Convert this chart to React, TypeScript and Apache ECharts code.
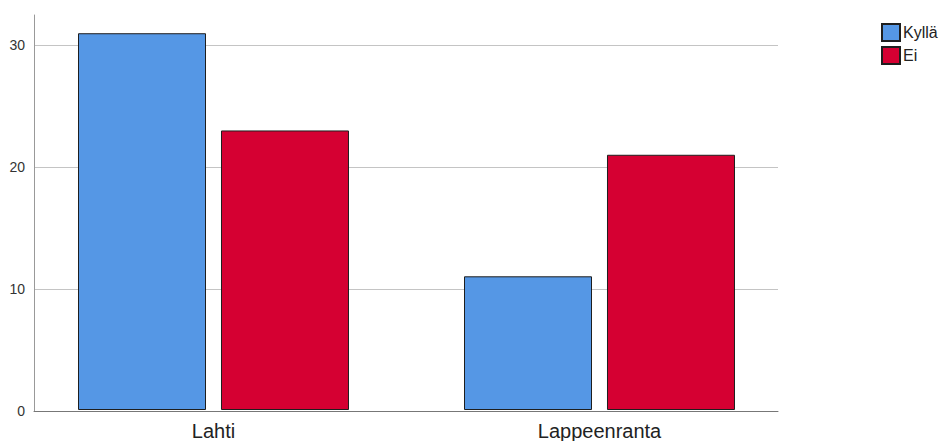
import React, { useEffect, useRef } from "react";
import * as echarts from "echarts";

const categories = ["Lahti", "Lappeenranta"];
const seriesNames = ["Kyllä", "Ei"];
const kyllaValues = [31, 11];
const eiValues = [23, 21];
const yTicks = [0, 10, 20, 30];

export default function App() {
  const ref = useRef<HTMLDivElement>(null);
  useEffect(() => {
    if (!ref.current) return;
    const chart = echarts.init(ref.current, undefined, { renderer: "svg" });
    const yMax = 32.5;
    chart.setOption({
      animation: false,
      backgroundColor: "#ffffff",
      textStyle: { fontFamily: "Arial, 'Liberation Sans', sans-serif" },
      legend: {
        orient: "vertical",
        left: 881,
        top: 23,
        padding: 0,
        itemWidth: 18,
        itemHeight: 17,
        itemGap: 4,
        icon: "rect",
        data: seriesNames,
        textStyle: { fontSize: 16, color: "#222", padding: [0, 0, 0, -2] },
      },
      grid: [
        { left: 34, right: 162, top: 15, bottom: 30 },
        { left: 20.5, right: 147.5, top: 15, bottom: 30 },
      ],
      xAxis: [
        {
          type: "category",
          gridIndex: 0,
          data: categories,
          axisLine: { lineStyle: { color: "#777", width: 1 } },
          axisTick: { show: false },
          axisLabel: { show: false },
        },
        {
          type: "category",
          gridIndex: 1,
          data: categories,
          axisLine: { show: false },
          axisTick: { show: false },
          axisLabel: { fontSize: 20, color: "#222", margin: 11 },
        },
      ],
      yAxis: [
        {
          type: "value",
          gridIndex: 0,
          min: 0,
          max: yMax,
          interval: 10,
          axisLine: { show: true, lineStyle: { color: "#999", width: 1 } },
          axisTick: { show: false },
          axisLabel: {
            fontSize: 14,
            color: "#333",
            margin: 9,
            showMaxLabel: false,
            formatter: (v: number) => (yTicks.includes(v) ? String(v) : ""),
          },
          splitLine: { show: true, showMaxLine: false, lineStyle: { color: "#c4c4c4", width: 1 } },
        },
        {
          type: "value",
          gridIndex: 1,
          min: 0,
          max: yMax,
          interval: 10,
          axisLine: { show: false },
          axisTick: { show: false },
          axisLabel: { show: false },
          splitLine: { show: false },
        },
      ],
      series: [
        {
          name: seriesNames[0],
          type: "bar",
          xAxisIndex: 1,
          yAxisIndex: 1,
          data: kyllaValues,
          barWidth: 128,
          barGap: "11.7%",
          itemStyle: { color: "#5597e5", borderColor: "#1e1e1e", borderWidth: 1 },
        },
        {
          name: seriesNames[1],
          type: "bar",
          xAxisIndex: 1,
          yAxisIndex: 1,
          data: eiValues,
          barWidth: 128,
          barGap: "11.7%",
          itemStyle: { color: "#d50032", borderColor: "#1e1e1e", borderWidth: 1 },
        },
      ],
    });
    return () => chart.dispose();
  }, []);
  return <div ref={ref} style={{ width: 940, height: 441, position: "fixed", left: 0, top: 0 }} />;
}
